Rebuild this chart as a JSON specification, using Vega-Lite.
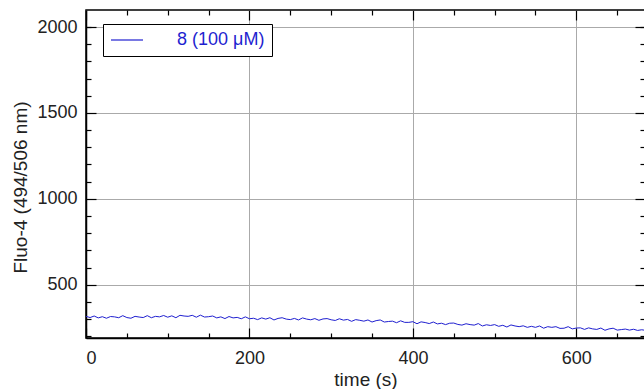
{
  "$schema": "https://vega.github.io/schema/vega-lite/v6.json",
  "autosize": "none",
  "width": 559,
  "height": 328,
  "padding": {"left": 86, "top": 10, "right": 0, "bottom": 51},
  "background": "white",
  "config": {
    "font": "Liberation Sans",
    "view": {"stroke": "black", "strokeWidth": 1.5},
    "axis": {
      "labelFont": "Liberation Sans",
      "titleFont": "Liberation Sans",
      "labelFontSize": 18,
      "titleFontSize": 19,
      "titleFontWeight": "normal",
      "labelColor": "#222222",
      "titleColor": "#222222",
      "domainColor": "black",
      "domainWidth": 1.5,
      "tickColor": "black",
      "tickWidth": 1.2,
      "gridColor": "#aaaaaa",
      "gridWidth": 1,
      "gridOpacity": 1
    }
  },
  "data": {"values": [
    {"t":0,"v":316,"s":"8 (100 μM)"},{"t":5,"v":309,"s":"8 (100 μM)"},{"t":10,"v":318,"s":"8 (100 μM)"},{"t":15,"v":307,"s":"8 (100 μM)"},{"t":20,"v":314,"s":"8 (100 μM)"},{"t":25,"v":305,"s":"8 (100 μM)"},{"t":30,"v":315,"s":"8 (100 μM)"},{"t":35,"v":313,"s":"8 (100 μM)"},{"t":40,"v":308,"s":"8 (100 μM)"},{"t":45,"v":320,"s":"8 (100 μM)"},{"t":50,"v":309,"s":"8 (100 μM)"},{"t":55,"v":305,"s":"8 (100 μM)"},{"t":60,"v":316,"s":"8 (100 μM)"},{"t":65,"v":312,"s":"8 (100 μM)"},{"t":70,"v":309,"s":"8 (100 μM)"},{"t":75,"v":320,"s":"8 (100 μM)"},{"t":80,"v":308,"s":"8 (100 μM)"},{"t":85,"v":316,"s":"8 (100 μM)"},{"t":90,"v":313,"s":"8 (100 μM)"},{"t":95,"v":321,"s":"8 (100 μM)"},{"t":100,"v":311,"s":"8 (100 μM)"},{"t":105,"v":319,"s":"8 (100 μM)"},{"t":110,"v":308,"s":"8 (100 μM)"},{"t":115,"v":322,"s":"8 (100 μM)"},{"t":120,"v":318,"s":"8 (100 μM)"},{"t":125,"v":316,"s":"8 (100 μM)"},{"t":130,"v":322,"s":"8 (100 μM)"},{"t":135,"v":311,"s":"8 (100 μM)"},{"t":140,"v":323,"s":"8 (100 μM)"},{"t":145,"v":312,"s":"8 (100 μM)"},{"t":150,"v":314,"s":"8 (100 μM)"},{"t":155,"v":318,"s":"8 (100 μM)"},{"t":160,"v":307,"s":"8 (100 μM)"},{"t":165,"v":313,"s":"8 (100 μM)"},{"t":170,"v":303,"s":"8 (100 μM)"},{"t":175,"v":315,"s":"8 (100 μM)"},{"t":180,"v":307,"s":"8 (100 μM)"},{"t":185,"v":310,"s":"8 (100 μM)"},{"t":190,"v":302,"s":"8 (100 μM)"},{"t":195,"v":313,"s":"8 (100 μM)"},{"t":200,"v":302,"s":"8 (100 μM)"},{"t":205,"v":305,"s":"8 (100 μM)"},{"t":210,"v":297,"s":"8 (100 μM)"},{"t":215,"v":307,"s":"8 (100 μM)"},{"t":220,"v":300,"s":"8 (100 μM)"},{"t":225,"v":308,"s":"8 (100 μM)"},{"t":230,"v":295,"s":"8 (100 μM)"},{"t":235,"v":304,"s":"8 (100 μM)"},{"t":240,"v":308,"s":"8 (100 μM)"},{"t":245,"v":300,"s":"8 (100 μM)"},{"t":250,"v":297,"s":"8 (100 μM)"},{"t":255,"v":304,"s":"8 (100 μM)"},{"t":260,"v":295,"s":"8 (100 μM)"},{"t":265,"v":307,"s":"8 (100 μM)"},{"t":270,"v":300,"s":"8 (100 μM)"},{"t":275,"v":296,"s":"8 (100 μM)"},{"t":280,"v":303,"s":"8 (100 μM)"},{"t":285,"v":293,"s":"8 (100 μM)"},{"t":290,"v":301,"s":"8 (100 μM)"},{"t":295,"v":303,"s":"8 (100 μM)"},{"t":300,"v":296,"s":"8 (100 μM)"},{"t":305,"v":292,"s":"8 (100 μM)"},{"t":310,"v":302,"s":"8 (100 μM)"},{"t":315,"v":294,"s":"8 (100 μM)"},{"t":320,"v":298,"s":"8 (100 μM)"},{"t":325,"v":287,"s":"8 (100 μM)"},{"t":330,"v":297,"s":"8 (100 μM)"},{"t":335,"v":293,"s":"8 (100 μM)"},{"t":340,"v":288,"s":"8 (100 μM)"},{"t":345,"v":295,"s":"8 (100 μM)"},{"t":350,"v":283,"s":"8 (100 μM)"},{"t":355,"v":291,"s":"8 (100 μM)"},{"t":360,"v":295,"s":"8 (100 μM)"},{"t":365,"v":283,"s":"8 (100 μM)"},{"t":370,"v":286,"s":"8 (100 μM)"},{"t":375,"v":288,"s":"8 (100 μM)"},{"t":380,"v":279,"s":"8 (100 μM)"},{"t":385,"v":290,"s":"8 (100 μM)"},{"t":390,"v":281,"s":"8 (100 μM)"},{"t":395,"v":281,"s":"8 (100 μM)"},{"t":400,"v":285,"s":"8 (100 μM)"},{"t":405,"v":273,"s":"8 (100 μM)"},{"t":410,"v":284,"s":"8 (100 μM)"},{"t":415,"v":280,"s":"8 (100 μM)"},{"t":420,"v":274,"s":"8 (100 μM)"},{"t":425,"v":283,"s":"8 (100 μM)"},{"t":430,"v":272,"s":"8 (100 μM)"},{"t":435,"v":276,"s":"8 (100 μM)"},{"t":440,"v":268,"s":"8 (100 μM)"},{"t":445,"v":276,"s":"8 (100 μM)"},{"t":450,"v":277,"s":"8 (100 μM)"},{"t":455,"v":269,"s":"8 (100 μM)"},{"t":460,"v":265,"s":"8 (100 μM)"},{"t":465,"v":273,"s":"8 (100 μM)"},{"t":470,"v":268,"s":"8 (100 μM)"},{"t":475,"v":265,"s":"8 (100 μM)"},{"t":480,"v":274,"s":"8 (100 μM)"},{"t":485,"v":260,"s":"8 (100 μM)"},{"t":490,"v":267,"s":"8 (100 μM)"},{"t":495,"v":263,"s":"8 (100 μM)"},{"t":500,"v":268,"s":"8 (100 μM)"},{"t":505,"v":258,"s":"8 (100 μM)"},{"t":510,"v":264,"s":"8 (100 μM)"},{"t":515,"v":254,"s":"8 (100 μM)"},{"t":520,"v":266,"s":"8 (100 μM)"},{"t":525,"v":260,"s":"8 (100 μM)"},{"t":530,"v":256,"s":"8 (100 μM)"},{"t":535,"v":261,"s":"8 (100 μM)"},{"t":540,"v":252,"s":"8 (100 μM)"},{"t":545,"v":258,"s":"8 (100 μM)"},{"t":550,"v":252,"s":"8 (100 μM)"},{"t":555,"v":260,"s":"8 (100 μM)"},{"t":560,"v":247,"s":"8 (100 μM)"},{"t":565,"v":256,"s":"8 (100 μM)"},{"t":570,"v":252,"s":"8 (100 μM)"},{"t":575,"v":256,"s":"8 (100 μM)"},{"t":580,"v":246,"s":"8 (100 μM)"},{"t":585,"v":247,"s":"8 (100 μM)"},{"t":590,"v":256,"s":"8 (100 μM)"},{"t":595,"v":243,"s":"8 (100 μM)"},{"t":600,"v":248,"s":"8 (100 μM)"},{"t":605,"v":249,"s":"8 (100 μM)"},{"t":610,"v":240,"s":"8 (100 μM)"},{"t":615,"v":249,"s":"8 (100 μM)"},{"t":620,"v":243,"s":"8 (100 μM)"},{"t":625,"v":240,"s":"8 (100 μM)"},{"t":630,"v":248,"s":"8 (100 μM)"},{"t":635,"v":235,"s":"8 (100 μM)"},{"t":640,"v":243,"s":"8 (100 μM)"},{"t":645,"v":247,"s":"8 (100 μM)"},{"t":650,"v":236,"s":"8 (100 μM)"},{"t":655,"v":239,"s":"8 (100 μM)"},{"t":660,"v":242,"s":"8 (100 μM)"},{"t":665,"v":236,"s":"8 (100 μM)"},{"t":670,"v":241,"s":"8 (100 μM)"},{"t":675,"v":234,"s":"8 (100 μM)"},{"t":680,"v":238,"s":"8 (100 μM)"},{"t":684,"v":235,"s":"8 (100 μM)"}
  ]},
  "layer": [
    {
      "mark": {"type": "line", "strokeWidth": 1, "clip": true},
      "encoding": {
        "x": {"field": "t", "type": "quantitative",
          "scale": {"domain": [0, 684], "nice": false, "zero": false},
          "axis": {"orient": "bottom", "title": "time (s)", "values": [0, 200, 400, 600], "grid": true,
            "tickSize": -10, "labelPadding": 35, "labelBaseline": "alphabetic",
            "titleY": 47, "titleBaseline": "alphabetic", "format": "d"}},
        "y": {"field": "v", "type": "quantitative",
          "scale": {"domain": [190, 2099], "nice": false, "zero": false},
          "axis": {"orient": "left", "title": "Fluo-4 (494/506 nm)", "values": [500, 1000, 1500, 2000], "grid": true,
            "tickSize": -10, "labelPadding": 19, "titleX": -66, "titleY": 177, "titleBaseline": "middle", "format": "d"}},
        "color": {"field": "s", "type": "nominal",
          "scale": {"range": ["#1f1fd0"]},
          "legend": {"orient": "none", "legendX": 17, "legendY": 14, "title": null,
            "symbolType": "M-2,0H2", "symbolSize": 256, "symbolStrokeWidth": 1.2, "symbolOffset": 8,
            "labelFontSize": 18, "labelFont": "Liberation Sans", "labelColor": "#1f1fd0", "labelOffset": 41,
            "strokeColor": "black", "fillColor": "white", "padding": 7, "cornerRadius": 0}}
      }
    },
    {
      "mark": {"type": "line", "opacity": 0},
      "encoding": {
        "x": {"field": "t", "type": "quantitative",
          "axis": {"orient": "bottom", "title": null, "labels": false, "domain": false, "grid": false, "tickSize": -5,
            "values": [50,100,150,250,300,350,450,500,550,650]}},
        "y": {"field": "v", "type": "quantitative",
          "axis": {"orient": "left", "title": null, "labels": false, "domain": false, "grid": false, "tickSize": -5,
            "values": [200,300,400,600,700,800,900,1100,1200,1300,1400,1600,1700,1800,1900,2000]}}
      }
    },
    {
      "mark": {"type": "line", "opacity": 0},
      "encoding": {
        "x": {"field": "t", "type": "quantitative",
          "axis": {"orient": "top", "title": null, "labels": false, "domain": false, "grid": false, "tickSize": -10,
            "values": [0, 200, 400, 600]}},
        "y": {"field": "v", "type": "quantitative",
          "axis": {"orient": "right", "title": null, "labels": false, "domain": false, "grid": false, "tickSize": -10,
            "values": [500, 1000, 1500, 2000]}}
      }
    },
    {
      "mark": {"type": "line", "opacity": 0},
      "encoding": {
        "x": {"field": "t", "type": "quantitative",
          "axis": {"orient": "top", "title": null, "labels": false, "domain": false, "grid": false, "tickSize": -5,
            "values": [50,100,150,250,300,350,450,500,550,650]}},
        "y": {"field": "v", "type": "quantitative",
          "axis": {"orient": "right", "title": null, "labels": false, "domain": false, "grid": false, "tickSize": -5,
            "values": [200,300,400,600,700,800,900,1100,1200,1300,1400,1600,1700,1800,1900,2000]}}
      }
    }
  ],
  "resolve": {"axis": {"x": "independent", "y": "independent"}}
}
